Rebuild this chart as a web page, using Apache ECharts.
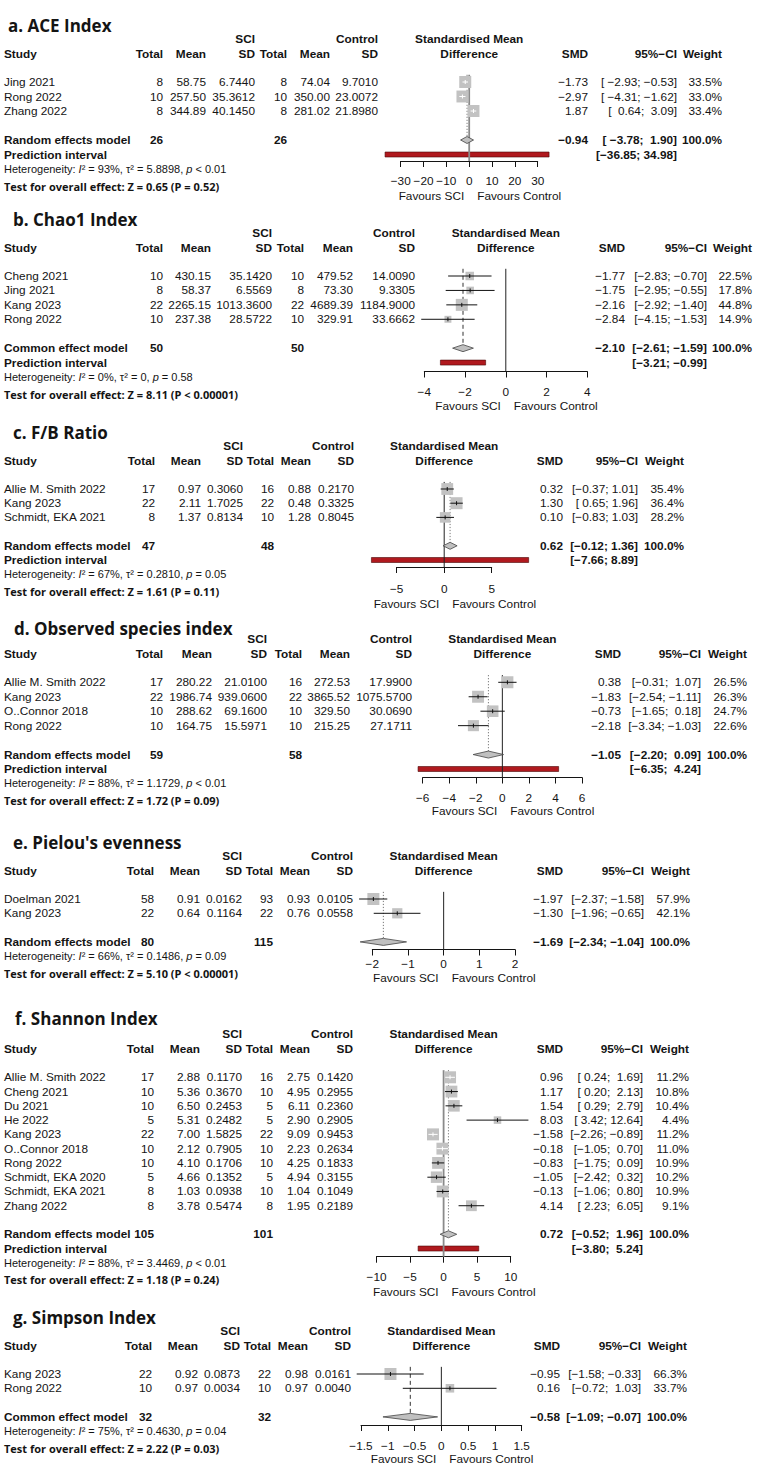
<!DOCTYPE html>
<html><head><meta charset="utf-8">
<script src="https://cdn.jsdelivr.net/npm/echarts@6/dist/echarts.min.js"></script>
<style>html,body{margin:0;padding:0;background:#fff}#c{width:757px;height:1468px}</style>
</head><body><div id="c"></div>
<script>
// ================= DATA =================
// a. ACE Index
const aceStudy = ['Jing 2021','Rong 2022','Zhang 2022'];
const aceSci = [[8,58.75,6.7440],[10,257.50,35.3612],[8,344.89,40.1450]];
const aceCtl = [[8,74.04,9.7010],[10,350.00,23.0072],[8,281.02,21.8980]];
const aceSMD = [-1.73,-2.97,1.87];
const aceCI = [[-2.93,-0.53],[-4.31,-1.62],[0.64,3.09]];
const aceWeight = [33.5,33.0,33.4];
const acePooled = [-0.94,-3.78,1.90];
const acePred = [-36.85,34.98];
const aceTotals = [26,26];
const aceTicks = [-30,30,10];
const aceHet = ['93%','5.8898','< 0.01'];
const aceTest = 'Z = 0.65 (P = 0.52)';
// b. Chao1 Index
const chaoStudy = ['Cheng 2021','Jing 2021','Kang 2023','Rong 2022'];
const chaoSci = [[10,430.15,35.1420],[8,58.37,6.5569],[22,2265.15,1013.3600],[10,237.38,28.5722]];
const chaoCtl = [[10,479.52,14.0090],[8,73.30,9.3305],[22,4689.39,1184.9000],[10,329.91,33.6662]];
const chaoSMD = [-1.77,-1.75,-2.16,-2.84];
const chaoCI = [[-2.83,-0.70],[-2.95,-0.55],[-2.92,-1.40],[-4.15,-1.53]];
const chaoWeight = [22.5,17.8,44.8,14.9];
const chaoPooled = [-2.10,-2.61,-1.59];
const chaoPred = [-3.21,-0.99];
const chaoTotals = [50,50];
const chaoTicks = [-4,4,2];
const chaoHet = ['0%','0','= 0.58'];
const chaoTest = 'Z = 8.11 (P < 0.00001)';
// c. F/B Ratio
const fbStudy = ['Allie M. Smith 2022','Kang 2023','Schmidt, EKA 2021'];
const fbSci = [[17,0.97,0.3060],[22,2.11,1.7025],[8,1.37,0.8134]];
const fbCtl = [[16,0.88,0.2170],[22,0.48,0.3325],[10,1.28,0.8045]];
const fbSMD = [0.32,1.30,0.10];
const fbCI = [[-0.37,1.01],[0.65,1.96],[-0.83,1.03]];
const fbWeight = [35.4,36.4,28.2];
const fbPooled = [0.62,-0.12,1.36];
const fbPred = [-7.66,8.89];
const fbTotals = [47,48];
const fbTicks = [-5,5,5];
const fbHet = ['67%','0.2810','= 0.05'];
const fbTest = 'Z = 1.61 (P = 0.11)';
// d. Observed species index
const obsStudy = ['Allie M. Smith 2022','Kang 2023','O..Connor 2018','Rong 2022'];
const obsSci = [[17,280.22,21.0100],[22,1986.74,939.0600],[10,288.62,69.1600],[10,164.75,15.5971]];
const obsCtl = [[16,272.53,17.9900],[22,3865.52,1075.5700],[10,329.50,30.0690],[10,215.25,27.1711]];
const obsSMD = [0.38,-1.83,-0.73,-2.18];
const obsCI = [[-0.31,1.07],[-2.54,-1.11],[-1.65,0.18],[-3.34,-1.03]];
const obsWeight = [26.5,26.3,24.7,22.6];
const obsPooled = [-1.05,-2.20,0.09];
const obsPred = [-6.35,4.24];
const obsTotals = [59,58];
const obsTicks = [-6,6,2];
const obsHet = ['88%','1.1729','< 0.01'];
const obsTest = 'Z = 1.72 (P = 0.09)';
// e. Pielou's evenness
const pielouStudy = ['Doelman 2021','Kang 2023'];
const pielouSci = [[58,0.91,0.0162],[22,0.64,0.1164]];
const pielouCtl = [[93,0.93,0.0105],[22,0.76,0.0558]];
const pielouSMD = [-1.97,-1.30];
const pielouCI = [[-2.37,-1.58],[-1.96,-0.65]];
const pielouWeight = [57.9,42.1];
const pielouPooled = [-1.69,-2.34,-1.04];
const pielouTotals = [80,115];
const pielouTicks = [-2,2,1];
const pielouHet = ['66%','0.1486','= 0.09'];
const pielouTest = 'Z = 5.10 (P < 0.00001)';
// f. Shannon Index
const shannonStudy = ['Allie M. Smith 2022','Cheng 2021','Du 2021','He 2022','Kang 2023','O..Connor 2018','Rong 2022','Schmidt, EKA 2020','Schmidt, EKA 2021','Zhang 2022'];
const shannonSci = [[17,2.88,0.1170],[10,5.36,0.3670],[10,6.50,0.2453],[5,5.31,0.2482],[22,7.00,1.5825],[10,2.12,0.7905],[10,4.10,0.1706],[5,4.66,0.1352],[8,1.03,0.0938],[8,3.78,0.5474]];
const shannonCtl = [[16,2.75,0.1420],[10,4.95,0.2955],[5,6.11,0.2360],[5,2.90,0.2905],[22,9.09,0.9453],[10,2.23,0.2634],[10,4.25,0.1833],[5,4.94,0.3155],[10,1.04,0.1049],[8,1.95,0.2189]];
const shannonSMD = [0.96,1.17,1.54,8.03,-1.58,-0.18,-0.83,-1.05,-0.13,4.14];
const shannonCI = [[0.24,1.69],[0.20,2.13],[0.29,2.79],[3.42,12.64],[-2.26,-0.89],[-1.05,0.70],[-1.75,0.09],[-2.42,0.32],[-1.06,0.80],[2.23,6.05]];
const shannonWeight = [11.2,10.8,10.4,4.4,11.2,11.0,10.9,10.2,10.9,9.1];
const shannonPooled = [0.72,-0.52,1.96];
const shannonPred = [-3.80,5.24];
const shannonTotals = [105,101];
const shannonTicks = [-10,10,5];
const shannonHet = ['88%','3.4469','< 0.01'];
const shannonTest = 'Z = 1.18 (P = 0.24)';
// g. Simpson Index
const simpsonStudy = ['Kang 2023','Rong 2022'];
const simpsonSci = [[22,0.92,0.0873],[10,0.97,0.0034]];
const simpsonCtl = [[22,0.98,0.0161],[10,0.97,0.0040]];
const simpsonSMD = [-0.95,0.16];
const simpsonCI = [[-1.58,-0.33],[-0.72,1.03]];
const simpsonWeight = [66.3,33.7];
const simpsonPooled = [-0.58,-1.09,-0.07];
const simpsonTotals = [32,32];
const simpsonTicks = [-1.5,1.5,0.5];
const simpsonHet = ['75%','0.4630','= 0.04'];
const simpsonTest = 'Z = 2.22 (P = 0.03)';

const panels = [
 {title:'a. ACE Index', model:'Random effects model', study:aceStudy, sci:aceSci, ctl:aceCtl, smd:aceSMD, ci:aceCI, w:aceWeight, pooled:acePooled, pred:acePred, totals:aceTotals, ticks:aceTicks, het:aceHet, test:aceTest},
 {title:'b. Chao1 Index', model:'Common effect model', study:chaoStudy, sci:chaoSci, ctl:chaoCtl, smd:chaoSMD, ci:chaoCI, w:chaoWeight, pooled:chaoPooled, pred:chaoPred, totals:chaoTotals, ticks:chaoTicks, het:chaoHet, test:chaoTest},
 {title:'c. F/B Ratio', model:'Random effects model', study:fbStudy, sci:fbSci, ctl:fbCtl, smd:fbSMD, ci:fbCI, w:fbWeight, pooled:fbPooled, pred:fbPred, totals:fbTotals, ticks:fbTicks, het:fbHet, test:fbTest},
 {title:'d. Observed species index', model:'Random effects model', study:obsStudy, sci:obsSci, ctl:obsCtl, smd:obsSMD, ci:obsCI, w:obsWeight, pooled:obsPooled, pred:obsPred, totals:obsTotals, ticks:obsTicks, het:obsHet, test:obsTest},
 {title:"e. Pielou's evenness", model:'Random effects model', study:pielouStudy, sci:pielouSci, ctl:pielouCtl, smd:pielouSMD, ci:pielouCI, w:pielouWeight, pooled:pielouPooled, pred:null, totals:pielouTotals, ticks:pielouTicks, het:pielouHet, test:pielouTest},
 {title:'f. Shannon Index', model:'Random effects model', study:shannonStudy, sci:shannonSci, ctl:shannonCtl, smd:shannonSMD, ci:shannonCI, w:shannonWeight, pooled:shannonPooled, pred:shannonPred, totals:shannonTotals, ticks:shannonTicks, het:shannonHet, test:shannonTest},
 {title:'g. Simpson Index', model:'Common effect model', study:simpsonStudy, sci:simpsonSci, ctl:simpsonCtl, smd:simpsonSMD, ci:simpsonCI, w:simpsonWeight, pooled:simpsonPooled, pred:null, totals:simpsonTotals, ticks:simpsonTicks, het:simpsonHet, test:simpsonTest}
];

// ================= LAYOUT (pixels) =================
const layout = [
 {tx:8,  ty:25,    row1:82,    rowH:14.5,  axisY:161,   x0:400.7, x1:537.7, labM:14, favDy:35, cols:[163,206,255,287,330,378], rc:[588,677,722], ref:'#8a8a8a', refW:1.8, dash:'dot'},
 {tx:13, ty:219,   row1:276,   rowH:14.43, axisY:371.5, x0:424.3, x1:587.3, labM:14, favDy:34, cols:[163,211,272,304,353,415], rc:[625,707,752], ref:'#222', refW:1, dash:'dash'},
 {tx:13, ty:432,   row1:489,   rowH:14.2,  axisY:567,   x0:396.7, x1:491.7, labM:16, favDy:36.5, cols:[155,201,243,274,311,354], rc:[563,638,684], ref:'#222', refW:1, dash:'dot'},
 {tx:14, ty:628.3, row1:682.3, rowH:14.45, axisY:777.5, x0:422.7, x1:582,   labM:14, favDy:33.5, cols:[163,212,267,302,350,412], rc:[621,701,747], ref:'#222', refW:1, dash:'dot'},
 {tx:13, ty:842,   row1:899,   rowH:14.3,  axisY:949.5, x0:372.3, x1:515,   labM:8,  favDy:28.5, cols:[154,200,242,273,310,353], rc:[563,644,690], ref:'#222', refW:1, dash:'dot'},
 {tx:15, ty:1018.3,row1:1077.3,rowH:14.27, axisY:1256.7,x0:376.5, x1:510.7, labM:14, favDy:35, cols:[154,200,242,273,310,353], rc:[563,643,689], ref:'#8a8a8a', refW:1.8, dash:'dot'},
 {tx:13, ty:1317,  row1:1374,  rowH:14.3,  axisY:1425,  x0:361,   x1:521.7, labM:15, favDy:34, cols:[152,198,240,271,308,351], rc:[560,641,687], ref:'#222', refW:1, dash:'dash'}
];

const FS = '"Liberation Sans", Arial, Helvetica, sans-serif';
const F_BODY = '11.8px ' + FS, F_BOLD = 'bold 11.8px ' + FS, F_HET = '11px ' + FS;
const F_TITLE = 'bold 17px "Open Sans", sans-serif', F_TEST = 'bold 11px "Open Sans", sans-serif';
const INK = '#141414', SQ = '#c2c2c2', DIAM = '#c0c0c0', RED = '#b0191e';
const NB = '\u00a0';
const minus = s => String(s).replace(/-/g, '\u2212');
const num = (v, d) => minus(v.toFixed(d));
const pad = (s, n) => NB.repeat(Math.max(0, n - s.length)) + s;

function T(x, y, s, align, font) {
  return {type:'text', x:x, y:y, silent:true,
    style:{text:s, font:font, fill:INK, textAlign:align, align:align, textVerticalAlign:'middle', verticalAlign:'middle'}};
}

const grid = [], xAxis = [], yAxis = [], series = [], gfx = [];

panels.forEach((P, i) => {
  const L = layout[i];
  const k = P.study.length;
  const rowY = r => L.row1 + (r - 1) * L.rowH;
  const top = rowY(0.5);
  const yMax = 0.5 + (L.axisY - top) / L.rowH;
  const rD = k + 2, rP = k + 3;
  const rHet = P.pred ? k + 4 : k + 3;
  const zeroX = L.x0 + (0 - P.ticks[0]) / (P.ticks[1] - P.ticks[0]) * (L.x1 - L.x0);

  const lows = P.ci.map(c => num(c[0], 2)).concat([num(P.pooled[1], 2)], P.pred ? [num(P.pred[0], 2)] : []);
  const highs = P.ci.map(c => num(c[1], 2)).concat([num(P.pooled[2], 2)], P.pred ? [num(P.pred[1], 2)] : []);
  const nL = Math.max(...lows.map(s => s.length)), nH = Math.max(...highs.map(s => s.length));
  const ciStr = (lo, hi) => '[' + pad(num(lo, 2), nL) + ';' + NB + pad(num(hi, 2), nH) + ']';

  grid.push({left:L.x0, top:top, width:L.x1 - L.x0, height:L.axisY - top});
  yAxis.push({gridIndex:i, type:'value', inverse:true, min:0.5, max:yMax, show:false});
  xAxis.push({gridIndex:i, type:'value', min:P.ticks[0], max:P.ticks[1], interval:P.ticks[2], position:'bottom',
    axisLine:{show:true, onZero:false, lineStyle:{color:INK, width:1}},
    axisTick:{show:true, inside:false, length:6, lineStyle:{color:INK, width:1}},
    axisLabel:{show:true, margin:L.labM, fontSize:11.8, fontFamily:FS, color:INK, showMinLabel:true, showMaxLabel:true,
      formatter: v => minus(String(v))},
    splitLine:{show:false}});

  // prediction interval bar
  if (P.pred) {
    series.push({type:'custom', xAxisIndex:i, yAxisIndex:i, clip:false, silent:true, z:2,
      data:[[P.pred[0], rP, P.pred[1]]],
      renderItem:(params, api) => {
        const [xl, cy] = api.coord([api.value(0), api.value(1)]);
        const xr = api.coord([api.value(2), api.value(1)])[0];
        return {type:'group', children:[
          {type:'rect', shape:{x:xl, y:cy - 2.5, width:xr - xl, height:5}, style:{fill:RED, stroke:'#4a0606', lineWidth:0.6}},
          T(4, cy, 'Prediction interval', 'left', F_BOLD),
          T(L.rc[1], cy, ciStr(P.pred[0], P.pred[1]), 'right', F_BOLD)
        ]};
      }});
  }
  // reference line at 0 and pooled-estimate line
  series.push({type:'custom', xAxisIndex:i, yAxisIndex:i, clip:false, silent:true, z:3,
    data:[[0, 0.5, P.pooled[0], rD]],
    renderItem:(params, api) => {
      const [x0, y0] = api.coord([api.value(0), api.value(1)]);
      const y1 = api.coord([0, yMax])[1];
      const xp = api.coord([api.value(2), api.value(1)])[0];
      const yd = api.coord([0, api.value(3)])[1] - 3.5;
      const dashed = L.dash === 'dash';
      return {type:'group', children:[
        {type:'line', shape:{x1:xp, y1:y0, x2:xp, y2:yd},
          style:{stroke: dashed ? '#333' : '#777', lineWidth:1, lineDash: dashed ? [4, 3] : [1.2, 1.8]}},
        {type:'line', shape:{x1:x0, y1:y0, x2:x0, y2:y1}, style:{stroke:L.ref, lineWidth:L.refW}}
      ]};
    }});
  // individual studies
  const wMax = Math.max(...P.w);
  series.push({type:'custom', xAxisIndex:i, yAxisIndex:i, clip:false, silent:true, z:4,
    data:P.study.map((s, j) => [P.smd[j], j + 1, P.ci[j][0], P.ci[j][1], P.w[j], j]),
    renderItem:(params, api) => {
      const j = api.value(5), r = api.value(1);
      const [cx, cy] = api.coord([api.value(0), r]);
      const xl = api.coord([api.value(2), r])[0], xr = api.coord([api.value(3), r])[0];
      const sz = 12 * Math.sqrt(api.value(4) / wMax);
      const lc = (xr - xl) < sz ? '#ffffff' : '#111111';
      const c = L.cols;
      return {type:'group', children:[
        {type:'rect', shape:{x:cx - sz / 2, y:cy - sz / 2, width:sz, height:sz}, style:{fill:SQ}},
        {type:'line', shape:{x1:xl, y1:cy, x2:xr, y2:cy}, style:{stroke:lc, lineWidth:1}},
        {type:'line', shape:{x1:cx, y1:cy - 2, x2:cx, y2:cy + 2}, style:{stroke:lc, lineWidth:1}},
        T(4, cy, P.study[j], 'left', F_BODY),
        T(c[0], cy, String(P.sci[j][0]), 'right', F_BODY),
        T(c[1], cy, num(P.sci[j][1], 2), 'right', F_BODY),
        T(c[2], cy, num(P.sci[j][2], 4), 'right', F_BODY),
        T(c[3], cy, String(P.ctl[j][0]), 'right', F_BODY),
        T(c[4], cy, num(P.ctl[j][1], 2), 'right', F_BODY),
        T(c[5], cy, num(P.ctl[j][2], 4), 'right', F_BODY),
        T(L.rc[0], cy, num(P.smd[j], 2), 'right', F_BODY),
        T(L.rc[1], cy, ciStr(P.ci[j][0], P.ci[j][1]), 'right', F_BODY),
        T(L.rc[2], cy, P.w[j].toFixed(1) + '%', 'right', F_BODY)
      ]};
    }});
  // pooled diamond
  series.push({type:'custom', xAxisIndex:i, yAxisIndex:i, clip:false, silent:true, z:5,
    data:[[P.pooled[0], rD, P.pooled[1], P.pooled[2]]],
    renderItem:(params, api) => {
      const [cx, cy] = api.coord([api.value(0), api.value(1)]);
      const xl = api.coord([api.value(2), api.value(1)])[0], xr = api.coord([api.value(3), api.value(1)])[0];
      const h = 3.5;
      return {type:'group', children:[
        {type:'polygon', shape:{points:[[xl, cy], [cx, cy - h], [xr, cy], [cx, cy + h]]}, style:{fill:DIAM, stroke:'#444', lineWidth:0.8}},
        T(4, cy, P.model, 'left', F_BOLD),
        T(L.cols[0], cy, String(P.totals[0]), 'right', F_BOLD),
        T(L.cols[3], cy, String(P.totals[1]), 'right', F_BOLD),
        T(L.rc[0], cy, num(P.pooled[0], 2), 'right', F_BOLD),
        T(L.rc[1], cy, ciStr(P.pooled[1], P.pooled[2]), 'right', F_BOLD),
        T(L.rc[2], cy, '100.0%', 'right', F_BOLD)
      ]};
    }});

  // ---- headers and footers ----
  const h1 = L.row1 - 43, h2 = L.row1 - 28.5;
  gfx.push(T(L.tx, L.ty, P.title, 'left', F_TITLE));
  gfx.push(T(L.cols[2], h1, 'SCI', 'right', F_BOLD));
  gfx.push(T(L.cols[5], h1, 'Control', 'right', F_BOLD));
  gfx.push(T(zeroX, h1, 'Standardised Mean', 'center', F_BOLD));
  gfx.push(T(4, h2, 'Study', 'left', F_BOLD));
  ['Total','Mean','SD','Total','Mean','SD'].forEach((s, q) => gfx.push(T(L.cols[q], h2, s, 'right', F_BOLD)));
  gfx.push(T(zeroX, h2, 'Difference', 'center', F_BOLD));
  gfx.push(T(L.rc[0], h2, 'SMD', 'right', F_BOLD));
  gfx.push(T(L.rc[1], h2, '95%\u2212CI', 'right', F_BOLD));
  gfx.push(T(L.rc[2], h2, 'Weight', 'right', F_BOLD));
  const hy = rowY(rHet);
  gfx.push({type:'text', x:4, y:hy, silent:true, style:{
    text:'{n|Heterogeneity:' + NB + '}{i|I}{n|²' + NB + '=' + NB + P.het[0] + ',' + NB + 'τ²' + NB + '=' + NB + P.het[1] + ',' + NB + '}{i|p}{n|' + NB + P.het[2].replace(/ /g, NB) + '}',
    rich:{n:{font:F_HET, fill:INK}, i:{font:'italic ' + F_HET, fill:INK}},
    textAlign:'left', align:'left', textVerticalAlign:'middle', verticalAlign:'middle'}});
  gfx.push(T(4, hy + 17, 'Test for overall effect: ' + P.test, 'left', F_TEST));
  gfx.push(T(zeroX - 5, L.axisY + L.favDy, 'Favours SCI', 'right', F_BODY));
  gfx.push(T(zeroX + 8, L.axisY + L.favDy, 'Favours Control', 'left', F_BODY));
});

const chart = echarts.init(document.getElementById('c'), null, {renderer:'svg', width:757, height:1468});
chart.setOption({
  animation:false,
  backgroundColor:'#ffffff',
  grid:grid, xAxis:xAxis, yAxis:yAxis, series:series,
  graphic:{elements:gfx}
});
</script>
</body></html>
